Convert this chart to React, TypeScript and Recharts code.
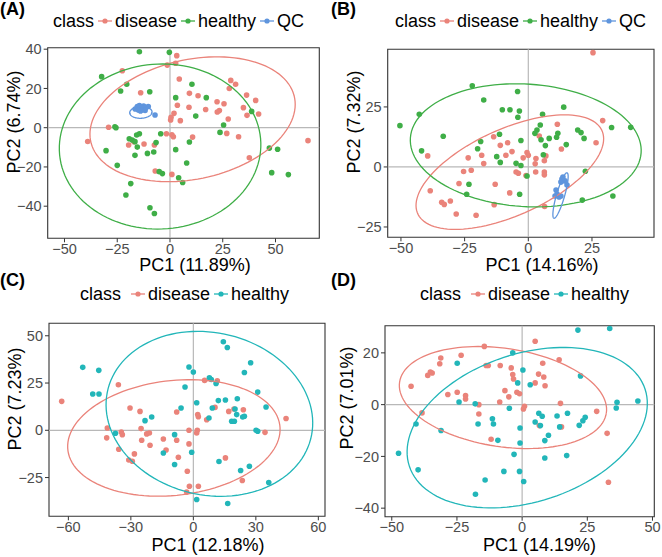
import React from "react";
import { ScatterChart, Scatter, XAxis, YAxis, ReferenceLine, ReferenceArea } from "recharts";

const FONT = "'Liberation Sans', Arial, Helvetica, sans-serif";
const RED = "#EA837A";
const GREEN = "#3FAE47";
const BLUE = "#5F95DD";
const TEAL = "#22B6B9";

type Pt = { x: number; y: number };

// ---- panel A ----
const aDisease: Pt[] = [
  { x: 3.2, y: 36.7 }, { x: 2.7, y: 32.8 }, { x: -1.3, y: 31.9 }, { x: -22.6, y: 29.0 }, { x: 4.4, y: 24.8 },
  { x: 28.8, y: 24.1 }, { x: 31.1, y: 22.1 }, { x: 28.1, y: 20.0 }, { x: -13.9, y: 17.8 }, { x: 9.2, y: 17.5 },
  { x: 13.3, y: 16.3 }, { x: 36.3, y: 16.6 }, { x: 40.6, y: 13.9 }, { x: 22.3, y: 13.2 }, { x: 25.6, y: 12.2 },
  { x: 3.5, y: 11.4 }, { x: 9.0, y: 10.4 }, { x: 16.9, y: 9.3 }, { x: 34.8, y: 10.2 }, { x: 23.4, y: 8.7 },
  { x: 22.4, y: 8.0 }, { x: 1.9, y: 7.3 }, { x: 36.5, y: 6.3 }, { x: 42.0, y: 7.0 }, { x: 0.5, y: 5.3 },
  { x: 4.9, y: 3.6 }, { x: 0.3, y: 3.9 }, { x: 27.6, y: 4.4 }, { x: -29.1, y: 0.2 }, { x: -39.0, y: -7.0 },
  { x: -1.7, y: -3.1 }, { x: 0.9, y: -3.6 }, { x: 1.6, y: -4.6 }, { x: 10.7, y: -4.8 }, { x: 26.9, y: -2.9 },
  { x: 32.5, y: -4.6 }, { x: -19.6, y: -8.8 }, { x: -17.1, y: -7.1 }, { x: -12.3, y: -8.3 }, { x: -7.4, y: -8.8 },
  { x: 65.4, y: -6.6 }, { x: 37.6, y: -15.3 }, { x: -7.0, y: -22.1 }, { x: 0.9, y: -23.8 },
];
const aHealthy: Pt[] = [
  { x: -14.5, y: 38.7 }, { x: -0.3, y: 38.4 }, { x: -32.4, y: 26.0 }, { x: -20.5, y: 22.1 }, { x: 10.4, y: 22.1 },
  { x: -9.6, y: 18.3 }, { x: -23.4, y: 18.7 }, { x: 2.7, y: 15.3 }, { x: 17.2, y: 15.3 }, { x: 12.2, y: 5.9 },
  { x: 38.7, y: 8.3 }, { x: 25.4, y: 1.4 }, { x: -26.1, y: 0.5 }, { x: -25.6, y: 0 }, { x: 23.7, y: -2.4 },
  { x: -14.5, y: -3.1 }, { x: -15.8, y: -3.7 }, { x: -4.4, y: -3.1 }, { x: -19.3, y: -5.6 }, { x: -17.9, y: -6.3 },
  { x: -16.6, y: -7.1 }, { x: -15.5, y: -9.9 }, { x: -6.6, y: -7.6 }, { x: 9.2, y: -7.3 }, { x: -30.3, y: -11.7 },
  { x: -10.7, y: -13.1 }, { x: -7.7, y: -12.4 }, { x: -16.6, y: -14.1 }, { x: 2.7, y: -11.2 }, { x: 47.1, y: -10.4 },
  { x: 51.0, y: -11.0 }, { x: 7.9, y: -18.0 }, { x: -25.0, y: -19.2 }, { x: -5.1, y: -22.4 }, { x: -3.6, y: -23.4 },
  { x: 4.1, y: -25.5 }, { x: 6.0, y: -27.9 }, { x: 48.2, y: -22.9 }, { x: 56.1, y: -23.9 }, { x: -18.6, y: -28.5 },
  { x: -20.9, y: -34.3 }, { x: -9.5, y: -40.8 }, { x: -7.4, y: -43.7 },
];
const aQC: Pt[] = [
  { x: -16.5, y: 9.5 }, { x: -15.5, y: 10.8 }, { x: -14.5, y: 11.3 }, { x: -13.5, y: 10.5 }, { x: -12.5, y: 11.0 },
  { x: -11.5, y: 10.2 }, { x: -10.3, y: 10.8 }, { x: -15.0, y: 9.0 }, { x: -13.0, y: 9.2 }, { x: -11.8, y: 8.8 },
  { x: -14.0, y: 8.5 }, { x: -7.1, y: 6.5 },
];
// ellipse: centre x, centre y, semi-major, semi-minor, angle (deg)
const aDiseaseEllipse = [10.7, 4.3, 49.6, 30.3, 14.3];
const aHealthyEllipse = [-4.7, -9.6, 47.8, 42.0, 5];
const aQCEllipse = [-13.8, 7.8, 5.3, 3.0, 3];

// ---- panel B ----
const bDisease: Pt[] = [
  { x: 25.4, y: 47.6 }, { x: 29.2, y: 19.3 }, { x: 11.4, y: 17.8 }, { x: -13.6, y: 12.6 }, { x: 4.3, y: 12.9 },
  { x: -8.1, y: 10.1 }, { x: -11.0, y: 9.0 }, { x: 26.6, y: 10.1 }, { x: 13.0, y: 7.5 }, { x: -6.4, y: 6.4 },
  { x: -8.8, y: 4.9 }, { x: -18.3, y: 4.9 }, { x: -23.6, y: 3.8 }, { x: -39.5, y: 4.6 }, { x: -2.0, y: 3.8 },
  { x: -0.5, y: 6.0 }, { x: 0, y: 4.9 }, { x: 3.0, y: 3.5 }, { x: 6.9, y: 4.6 }, { x: 2.7, y: 1.3 },
  { x: 6.3, y: 2.6 }, { x: -17.5, y: 1.4 }, { x: -22.4, y: -1.4 }, { x: -25.4, y: -1.9 }, { x: -4.8, y: -2.1 },
  { x: -3.9, y: -2.6 }, { x: -0.9, y: -3.6 }, { x: 2.9, y: -2.1 }, { x: 6.3, y: -2.1 }, { x: 6.3, y: -3.3 },
  { x: -27.2, y: -6.9 }, { x: -13.0, y: -7.2 }, { x: -7.3, y: -10.8 }, { x: -38.5, y: -9.9 }, { x: -34.0, y: -14.7 },
  { x: -33.0, y: -15.6 }, { x: -30.6, y: -14.2 }, { x: -13.4, y: -15.7 }, { x: -28.3, y: -19.6 }, { x: -20.5, y: -20.1 },
  { x: 6.4, y: -16.5 },
];
const bHealthy: Pt[] = [
  { x: -50.4, y: 17.2 }, { x: -42.8, y: 21.9 }, { x: -22.0, y: 33.8 }, { x: -4.2, y: 31.4 }, { x: -17.5, y: 27.9 },
  { x: -10.2, y: 23.8 }, { x: -7.2, y: 23.8 }, { x: -3.5, y: 23.3 }, { x: -4.1, y: 20.7 }, { x: 13.9, y: 24.9 },
  { x: 5.6, y: 21.9 }, { x: -33.4, y: 12.8 }, { x: -41.9, y: 6.7 }, { x: -18.7, y: 10.6 }, { x: -19.9, y: 7.6 },
  { x: -11.3, y: 13.6 }, { x: -2.9, y: 11.0 }, { x: -12.4, y: 4.3 }, { x: -11.0, y: 1.9 }, { x: -4.8, y: 1.5 },
  { x: -2.9, y: 0.6 }, { x: -0.5, y: -3.8 }, { x: 4.7, y: 17.5 }, { x: 3.4, y: 15.4 }, { x: 2.6, y: 14.0 },
  { x: 5.0, y: 11.3 }, { x: 6.7, y: 8.9 }, { x: 8.2, y: 11.9 }, { x: 11.6, y: 14.0 }, { x: 11.1, y: 12.4 },
  { x: 14.9, y: 9.3 }, { x: 19.4, y: 15.4 }, { x: 20.7, y: 14.3 }, { x: 21.9, y: 11.9 }, { x: 32.7, y: 16.4 },
  { x: 40.2, y: 16.5 }, { x: 5.9, y: 5.1 }, { x: 22.4, y: -1.8 }, { x: -23.3, y: -7.2 }, { x: -24.2, y: -11.4 },
  { x: -3.4, y: -11.4 }, { x: 21.2, y: -13.8 }, { x: 33.2, y: -12.1 },
];
const bQC: Pt[] = [
  { x: 13.6, y: -4.2 }, { x: 14.4, y: -5.8 }, { x: 15.2, y: -7.5 }, { x: 12.8, y: -6.3 }, { x: 13.2, y: -5.0 },
  { x: 10.9, y: -9.6 }, { x: 11.3, y: -11.3 }, { x: 12.1, y: -12.5 }, { x: 10.5, y: -12.1 }, { x: 12.8, y: -12.1 },
];
const bDiseaseEllipse = [-7.25, -2.15, 40.1, 17.8, 26.2];
const bHealthyEllipse = [-1.0, 9.0, 45.4, 25.5, -4];
const bQCEllipse = [12.65, -11.9, 9.8, 1.6, 74.8];

// ---- panel C ----
const cDisease: Pt[] = [
  { x: -63.2, y: 15.3 }, { x: -36.0, y: 24.1 }, { x: 5.4, y: 26.4 }, { x: 11.5, y: 26.2 }, { x: -30.4, y: 11.8 },
  { x: -25.6, y: 10.0 }, { x: -8.0, y: 9.7 }, { x: 2.1, y: 8.3 }, { x: 2.4, y: 7.2 }, { x: 10.4, y: 12.1 },
  { x: 17.0, y: 10.0 }, { x: 19.5, y: 11.3 }, { x: 24.0, y: 10.9 }, { x: 6.4, y: 5.6 }, { x: 44.5, y: 6.2 },
  { x: -41.3, y: 1.2 }, { x: -34.6, y: -0.9 }, { x: -34.1, y: -2.3 }, { x: -25.1, y: 0.9 }, { x: -22.4, y: -1.9 },
  { x: -21.1, y: -1.4 }, { x: -41.6, y: -4.0 }, { x: -24.8, y: -5.3 }, { x: -20.8, y: -7.9 }, { x: -14.4, y: -4.6 },
  { x: -8.0, y: -5.3 }, { x: -2.1, y: 0 }, { x: 1.9, y: 0 }, { x: 1.6, y: -1.4 }, { x: -2.1, y: -7.2 },
  { x: -35.8, y: -10.0 }, { x: -28.3, y: -12.5 }, { x: -13.1, y: -10.4 }, { x: -7.2, y: -14.3 }, { x: -31.0, y: -15.7 },
  { x: -29.3, y: -16.4 }, { x: 15.4, y: -14.6 }, { x: 34.4, y: -1.1 }, { x: -2.9, y: -21.7 }, { x: 23.5, y: -26.6 },
  { x: -1.9, y: -29.6 }, { x: 2.4, y: -29.6 }, { x: -3.2, y: -32.7 },
];
const cHealthy: Pt[] = [
  { x: 14.4, y: 46.8 }, { x: 16.3, y: 43.8 }, { x: -53.1, y: 33.3 }, { x: -45.4, y: 31.7 }, { x: -2.1, y: 33.5 },
  { x: 0, y: 30.8 }, { x: 27.5, y: 35.7 }, { x: 24.5, y: 30.6 }, { x: 7.7, y: 27.8 }, { x: 8.6, y: 26.9 },
  { x: -4.0, y: 22.9 }, { x: 10.9, y: 24.8 }, { x: -48.3, y: 19.2 }, { x: -45.3, y: 19.2 }, { x: 30.9, y: 20.2 },
  { x: 1.6, y: 14.6 }, { x: 12.0, y: 15.7 }, { x: 15.4, y: 16.0 }, { x: 21.1, y: 16.7 }, { x: -5.9, y: 11.8 },
  { x: 9.1, y: 11.8 }, { x: 34.9, y: 12.3 }, { x: 20.0, y: 11.3 }, { x: 20.8, y: 8.3 }, { x: 18.4, y: 4.8 },
  { x: 19.7, y: 4.8 }, { x: 23.7, y: 7.0 }, { x: 24.5, y: 7.4 }, { x: 7.5, y: 6.5 }, { x: -20.0, y: 7.0 },
  { x: -23.2, y: 5.1 }, { x: -37.4, y: -1.6 }, { x: -9.0, y: -2.3 }, { x: 30.1, y: 0 }, { x: 30.9, y: -0.5 },
  { x: -14.4, y: -12.0 }, { x: -0.8, y: -11.6 }, { x: -9.0, y: -18.1 }, { x: 12.3, y: -16.5 }, { x: 22.7, y: -21.3 },
  { x: 26.9, y: -19.0 }, { x: 36.2, y: -27.6 }, { x: 1.6, y: -36.6 }, { x: 16.5, y: -38.7 },
];
const cDiseaseEllipse = [-9.35, -4.05, 51.3, 30.3, 7.8];
const cHealthyEllipse = [7.7, 8.7, 50.5, 42.6, -20.4];

// ---- panel D ----
const dDisease: Pt[] = [
  { x: 5.0, y: 24.5 }, { x: -14.5, y: 22.5 }, { x: -31.2, y: 18.0 }, { x: -23.4, y: 19.1 }, { x: -31.6, y: 15.8 },
  { x: -35.2, y: 12.6 }, { x: -36.2, y: 11.3 }, { x: -34.5, y: 12.2 }, { x: -42.6, y: 7.1 }, { x: -13.8, y: 15.1 },
  { x: -13.0, y: 15.1 }, { x: -8.4, y: 15.1 }, { x: -4.2, y: 14.2 }, { x: 7.9, y: 16.0 }, { x: 14.2, y: 17.3 },
  { x: -3.6, y: 11.6 }, { x: -3.3, y: 9.9 }, { x: 6.3, y: 11.8 }, { x: 8.3, y: 10.7 }, { x: 5.0, y: 8.4 },
  { x: 8.8, y: 7.3 }, { x: -28.5, y: 3.9 }, { x: -24.9, y: 4.8 }, { x: -21.7, y: 3.5 }, { x: -21.7, y: 2.2 },
  { x: -6.6, y: 5.4 }, { x: -5.1, y: 3.0 }, { x: -2.0, y: 4.8 }, { x: -1.0, y: 4.2 }, { x: -8.6, y: 1.0 },
  { x: 0.9, y: -0.6 }, { x: 0.5, y: -1.7 }, { x: -16.6, y: 0 }, { x: -38.4, y: -3.2 }, { x: -16.6, y: -3.6 },
  { x: 14.7, y: 0.5 }, { x: 28.6, y: -2.6 }, { x: 6.6, y: -8.1 }, { x: 15.1, y: -8.6 }, { x: -11.9, y: -13.4 },
  { x: 32.6, y: -11.1 }, { x: 33.1, y: -30.0 },
];
const dHealthy: Pt[] = [
  { x: 21.4, y: 28.8 }, { x: 33.6, y: 29.4 }, { x: -3.6, y: 20.0 }, { x: -24.9, y: 16.0 }, { x: 0.3, y: 13.4 },
  { x: 22.4, y: 11.1 }, { x: -1.7, y: 8.4 }, { x: 3.1, y: 7.7 }, { x: -24.2, y: 1.0 }, { x: -4.9, y: -1.4 },
  { x: -18.0, y: 0.3 }, { x: 36.4, y: 0.9 }, { x: 44.4, y: 1.4 }, { x: 36.1, y: -1.3 }, { x: -40.7, y: -7.5 },
  { x: -16.9, y: -7.5 }, { x: -11.4, y: -5.5 }, { x: -11.0, y: -7.5 }, { x: -31.1, y: -10.0 }, { x: 6.4, y: -3.3 },
  { x: 7.7, y: -4.5 }, { x: 5.0, y: -6.7 }, { x: 7.0, y: -8.1 }, { x: 13.4, y: -4.4 }, { x: 14.4, y: -8.6 },
  { x: 17.4, y: -3.3 }, { x: 24.2, y: -4.9 }, { x: 23.3, y: -6.2 }, { x: 21.9, y: -8.0 }, { x: -0.8, y: -9.0 },
  { x: -9.3, y: -13.8 }, { x: 10.1, y: -11.8 }, { x: 8.7, y: -13.9 }, { x: -0.8, y: -14.8 }, { x: -47.4, y: -18.8 },
  { x: -3.1, y: -19.2 }, { x: 8.7, y: -20.6 }, { x: 17.1, y: -19.7 }, { x: -39.9, y: -25.2 }, { x: -7.0, y: -25.8 },
  { x: -1.0, y: -25.8 }, { x: 0.6, y: -29.7 }, { x: -14.2, y: -29.1 }, { x: -17.9, y: -34.6 },
];
const dDiseaseEllipse = [-7.35, 2.75, 40.1, 19.0, -8.6];
const dHealthyEllipse = [1.95, -8.9, 47.6, 28.6, 18.3];

function ellipsePoints(p: number[]): Pt[] {
  const [cx, cy, a, b, deg] = p;
  const t = (deg * Math.PI) / 180;
  const out: Pt[] = [];
  for (let i = 0; i <= 120; i++) {
    const u = (i / 120) * 2 * Math.PI;
    const ex = a * Math.cos(u);
    const ey = b * Math.sin(u);
    out.push({ x: cx + ex * Math.cos(t) - ey * Math.sin(t), y: cy + ex * Math.sin(t) + ey * Math.cos(t) });
  }
  return out;
}

type Series = { name: string; color: string; points: Pt[]; ellipse: number[] };

const fmt = (v: number) => (v < 0 ? "\u2212" + Math.abs(v) : String(v));

function LegendKey({ color }: { color: string }) {
  return (
    <svg width={16} height={12} style={{ display: "block" }}>
      <line x1={1} y1={6} x2={15} y2={6} stroke={color} strokeWidth={1.3} />
      <circle cx={8} cy={6} r={2.6} fill={color} />
    </svg>
  );
}

type PanelProps = {
  left: number;
  top: number;
  tag: string;
  tagTop: number;
  series: Series[];
  xDomain: number[];
  yDomain: number[];
  xTicks: number[];
  yTicks: number[];
  plot: { l: number; r: number; t: number; b: number };
  legendLeft: number;
  legendTop: number;
  legendGap: number;
  xTitle: string;
  xTitleAt: number[];
  yTitle: string;
  yTitleAt: number[];
};

function Panel(p: PanelProps) {
  const W = 331;
  const H = 279;
  const yAxisW = 40;
  const xAxisH = 30;
  const margin = { left: p.plot.l - yAxisW, right: W - p.plot.r, top: p.plot.t, bottom: H - p.plot.b - xAxisH };
  return (
    <div style={{ position: "absolute", left: p.left, top: p.top, width: W, height: H, fontFamily: FONT }}>
      <div style={{ position: "absolute", left: 0, top: p.tagTop, fontSize: 18, fontWeight: 700, lineHeight: "20px" }}>{p.tag}</div>
      <div
        style={{ position: "absolute", left: p.legendLeft, top: p.legendTop, display: "flex", alignItems: "center", fontSize: 18, lineHeight: "22px", whiteSpace: "nowrap" }}
      >
        <span style={{ marginRight: p.legendGap }}>class</span>
        {p.series.map((s) => (
          <React.Fragment key={s.name}>
            <LegendKey color={s.color} />
            <span style={{ marginLeft: 2, marginRight: 3 }}>{s.name}</span>
          </React.Fragment>
        ))}
      </div>
      <div style={{ position: "absolute", left: 0, top: 0 }}>
        <ScatterChart width={W} height={H} margin={margin} style={{ fontFamily: FONT }}>
          <XAxis
            type="number"
            dataKey="x"
            domain={p.xDomain}
            allowDataOverflow
            ticks={p.xTicks}
            interval={0}
            tickFormatter={fmt}
            height={xAxisH}
            axisLine={false}
            tickSize={4}
            tickMargin={1}
            tickLine={{ stroke: "#333333" }}
            tick={{ fill: "#4D4D4D", fontSize: 14.5, fontFamily: FONT }}
          />
          <YAxis
            type="number"
            dataKey="y"
            domain={p.yDomain}
            allowDataOverflow
            ticks={p.yTicks}
            interval={0}
            tickFormatter={fmt}
            width={yAxisW}
            axisLine={false}
            tickSize={4}
            tickMargin={2}
            tickLine={{ stroke: "#333333" }}
            tick={{ fill: "#4D4D4D", fontSize: 14.5, fontFamily: FONT }}
          />
          <ReferenceLine x={0} stroke="#B8B8B8" strokeWidth={1.2} />
          <ReferenceLine y={0} stroke="#B8B8B8" strokeWidth={1.2} />
          {p.series.map((s) => (
            <Scatter
              key={s.name + "-pts"}
              name={s.name}
              data={s.points}
              isAnimationActive={false}
              shape={(props: any) => <circle cx={props.cx} cy={props.cy} r={2.8} fill={s.color} />}
            />
          ))}
          {p.series.map((s) => (
            <Scatter
              key={s.name + "-ell"}
              data={ellipsePoints(s.ellipse)}
              isAnimationActive={false}
              line={{ stroke: s.color, strokeWidth: 1.3 }}
              lineType="joint"
              shape={() => <g />}
            />
          ))}
          <ReferenceArea
            x1={p.xDomain[0]}
            x2={p.xDomain[1]}
            y1={p.yDomain[0]}
            y2={p.yDomain[1]}
            fill="none"
            fillOpacity={0}
            stroke="#333333"
            strokeWidth={1.1}
          />
        </ScatterChart>
      </div>
      <div
        style={{ position: "absolute", left: p.xTitleAt[0], top: p.xTitleAt[1], transform: "translateX(-50%)", fontSize: 18, lineHeight: "14px", whiteSpace: "nowrap" }}
      >
        {p.xTitle}
      </div>
      <div
        style={{
          position: "absolute",
          left: p.yTitleAt[0],
          top: p.yTitleAt[1],
          transform: "translate(-50%, -50%) rotate(-90deg)",
          fontSize: 18,
          lineHeight: "20px",
          whiteSpace: "nowrap",
        }}
      >
        {p.yTitle}
      </div>
    </div>
  );
}

export default function App() {
  return (
    <div style={{ position: "absolute", left: 0, top: 0, width: 662, height: 557, background: "#fff", overflow: "hidden" }}>
      <Panel
        left={0}
        top={0}
        tag="(A)"
        tagTop={-1}
        series={[
          { name: "disease", color: RED, points: aDisease, ellipse: aDiseaseEllipse },
          { name: "healthy", color: GREEN, points: aHealthy, ellipse: aHealthyEllipse },
          { name: "QC", color: BLUE, points: aQC, ellipse: aQCEllipse },
        ]}
        xDomain={[-57.96, 70.76]}
        yDomain={[-56.36, 40.76]}
        xTicks={[-50, -25, 0, 25, 50]}
        yTicks={[-40, -20, 0, 20, 40]}
        plot={{ l: 47.7, r: 319.3, t: 47.7, b: 238.3 }}
        legendLeft={53}
        legendTop={10}
        legendGap={3}
        xTitle="PC1 (11.89%)"
        xTitleAt={[195, 257.5]}
        yTitle="PC2 (6.74%)"
        yTitleAt={[13.5, 121.5]}
      />
      <Panel
        left={331}
        top={0}
        tag="(B)"
        tagTop={-1}
        series={[
          { name: "disease", color: RED, points: bDisease, ellipse: bDiseaseEllipse },
          { name: "healthy", color: GREEN, points: bHealthy, ellipse: bHealthyEllipse },
          { name: "QC", color: BLUE, points: bQC, ellipse: bQCEllipse },
        ]}
        xDomain={[-55.2, 49.35]}
        yDomain={[-29.3, 49.0]}
        xTicks={[-50, -25, 0, 25]}
        yTicks={[-25, 0, 25]}
        plot={{ l: 56.7, r: 323, t: 49.3, b: 237.3 }}
        legendLeft={64}
        legendTop={10}
        legendGap={3}
        xTitle="PC1 (14.16%)"
        xTitleAt={[211, 257.5]}
        yTitle="PC2 (7.32%)"
        yTitleAt={[23, 121.5]}
      />
      <Panel
        left={0}
        top={278}
        tag="(C)"
        tagTop={-8}
        series={[
          { name: "disease", color: RED, points: cDisease, ellipse: cDiseaseEllipse },
          { name: "healthy", color: TEAL, points: cHealthy, ellipse: cHealthyEllipse },
        ]}
        xDomain={[-69.3, 63.2]}
        yDomain={[-45.5, 56.6]}
        xTicks={[-60, -30, 0, 30, 60]}
        yTicks={[-25, 0, 25, 50]}
        plot={{ l: 49, r: 325, t: 45.3, b: 238.3 }}
        legendLeft={80}
        legendTop={5}
        legendGap={9}
        xTitle="PC1 (12.18%)"
        xTitleAt={[208, 259.5]}
        yTitle="PC2 (7.23%)"
        yTitleAt={[15, 120.5]}
      />
      <Panel
        left={331}
        top={278}
        tag="(D)"
        tagTop={-8}
        series={[
          { name: "disease", color: RED, points: dDisease, ellipse: dDiseaseEllipse },
          { name: "healthy", color: TEAL, points: dHealthy, ellipse: dHealthyEllipse },
        ]}
        xDomain={[-52.6, 50.7]}
        yDomain={[-43.3, 30.5]}
        xTicks={[-50, -25, 0, 25, 50]}
        yTicks={[-40, -20, 0, 20]}
        plot={{ l: 54, r: 323.3, t: 47.7, b: 238.7 }}
        legendLeft={89}
        legendTop={5}
        legendGap={9}
        xTitle="PC1 (14.19%)"
        xTitleAt={[208.5, 259.5]}
        yTitle="PC2 (7.01%)"
        yTitleAt={[15.5, 120]}
      />
    </div>
  );
}
